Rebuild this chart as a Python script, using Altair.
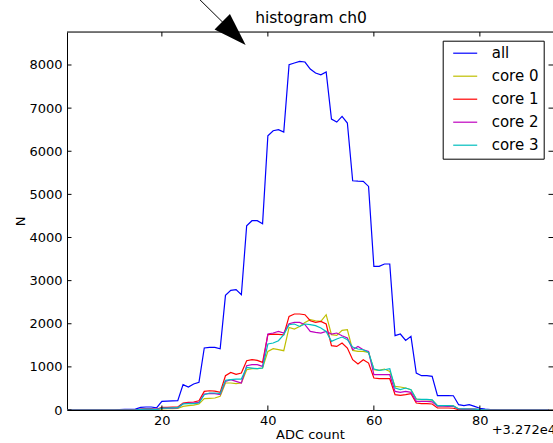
import altair as alt
import pandas as pd

FONT = "DejaVu Sans"

# ---------------- data ----------------
adc_bins = list(range(2, 94))  # ADC count - 32720

counts_all = [
    0, 0, 0, 0, 0, 0, 0, 0, 0, 0,
    10, 15, 15, 20, 60, 70, 70, 50,
    200, 205, 210, 215,
    587, 533, 602, 640,
    1437, 1452, 1450, 1421,
    2658, 2773, 2790, 2673,
    4273, 4389, 4389, 4320,
    6360, 6476, 6499, 6445,
    8006, 8045, 8083, 8069,
    7906, 7813, 7774, 7837,
    6747, 6677, 6807, 6654,
    5316, 5305, 5300, 5184,
    3330, 3330, 3385, 3385,
    1723, 1762, 1614, 1707,
    858, 795, 795, 779,
    332, 332, 332, 330,
    123, 100, 123, 84,
    40, 20, 10, 5,
    0, 0, 0, 0, 0, 0, 0, 0, 0, 0,
]

counts_core0 = [
    0, 0, 0, 0, 0, 0, 0, 0, 0, 0, 0, 0, 0, 0,
    10, 15, 15, 10,
    25, 30, 30, 35,
    84, 100, 115, 138,
    262, 270, 278, 316,
    626, 626, 610, 626,
    934, 958, 958, 973,
    1359, 1421, 1398, 1375,
    1915, 1878, 1938, 2031,
    2094, 2070, 2055, 2210,
    1746, 1730, 1846, 1862,
    1382, 1359, 1359, 1336,
    934, 918, 950, 895,
    548, 533, 510, 471,
    255, 239, 239, 230,
    100, 100, 95, 95,
    25, 23, 25, 20,
    10, 5, 0, 0,
    0, 0, 0, 0, 0, 0, 0, 0, 0, 0,
]

counts_core1 = [
    0, 0, 0, 0, 0, 0, 0, 0, 0, 0, 0, 0, 0, 0,
    20, 25, 25, 15,
    60, 60, 65, 70,
    162, 176, 185, 215,
    431, 446, 438, 409,
    795, 872, 826, 857,
    1143, 1166, 1151, 1104,
    1750, 1760, 1755, 1740,
    2170, 2226, 2226, 2210,
    2070, 2031, 2055, 1994,
    1491, 1475, 1553, 1437,
    1166, 1066, 1166, 1089,
    742, 726, 726, 726,
    355, 340, 355, 378,
    162, 150, 150, 140,
    46, 46, 46, 40,
    7, 7, 7, 5,
    0, 0, 0, 0,
    0, 0, 0, 0, 0, 0, 0, 0, 0, 0,
]

counts_core2 = [
    0, 0, 0, 0, 0, 0, 0, 0, 0, 0, 0, 0, 0, 0,
    15, 20, 20, 15,
    40, 45, 45, 50,
    146, 162, 162, 176,
    371, 378, 378, 355,
    664, 703, 664, 626,
    1027, 1050, 1050, 1011,
    1762, 1785, 1823, 1785,
    2001, 2031, 2031, 1978,
    1823, 1799, 1785, 1823,
    1762, 1785, 1723, 1669,
    1398, 1475, 1398, 1359,
    818, 818, 818, 818,
    431, 408, 431, 408,
    200, 200, 200, 190,
    90, 90, 85, 85,
    23, 20, 23, 20,
    8, 3, 0, 0,
    0, 0, 0, 0, 0, 0, 0, 0, 0, 0,
]

counts_core3 = [
    0, 0, 0, 0, 0, 0, 0, 0, 0, 0, 0, 0, 0, 0,
    15, 20, 20, 10,
    45, 45, 50, 55,
    140, 146, 150, 162,
    355, 394, 394, 378,
    687, 703, 718, 718,
    988, 973, 958, 973,
    1530, 1553, 1607, 1746,
    1978, 1994, 1938, 1994,
    1978, 1955, 1901, 1823,
    1591, 1646, 1692, 1630,
    1460, 1414, 1398, 1336,
    950, 918, 934, 958,
    510, 471, 510, 471,
    255, 245, 245, 235,
    100, 100, 100, 95,
    23, 25, 23, 20,
    8, 3, 0, 0,
    0, 0, 0, 0, 0, 0, 0, 0, 0, 0,
]

series_names = ["all", "core 0", "core 1", "core 2", "core 3"]
series_colors = ["#0000ff", "#bfbf00", "#ff0000", "#bf00bf", "#00bfbf"]
series_counts = [counts_all, counts_core0, counts_core1, counts_core2, counts_core3]

x_tick_values = [20, 40, 60, 80]
y_tick_values = [0, 1000, 2000, 3000, 4000, 5000, 6000, 7000, 8000]
x_domain = [2.1, 93.8]
y_domain = [0, 8765]
title_text = ["histogram ch0"]
offset_label = ["+3.272e4"]

# annotation arrow (data coordinates)
arrow_x = [25.3, 33.6]
arrow_y = [9740, 8735]

# ---------------- build tables ----------------
rows = []
for name, vals in zip(series_names, series_counts):
    for xv, v in zip(adc_bins, vals):
        rows.append({"x": xv, "n": v, "series": name})
df = pd.DataFrame(rows)

W, H = 486, 378

sx = alt.Scale(domain=x_domain, nice=False, zero=False)
sy = alt.Scale(domain=y_domain, nice=False, zero=False)

x_axis = alt.Axis(
    values=x_tick_values, ticks=False, labelPadding=4, grid=False,
    labelFontSize=13, labelColor="black", labelFont=FONT, format="d",
    title="ADC count", titleFontSize=13, titleFontWeight="normal",
    titleColor="black", titleFont=FONT, titlePadding=1,
    domainColor="black", domainWidth=1, labelFlush=False)
y_axis = alt.Axis(
    values=y_tick_values, ticks=False, labelPadding=5, grid=False,
    labelFontSize=13, labelColor="black", labelFont=FONT, format="d",
    title="N", titleFontSize=13, titleFontWeight="normal",
    titleColor="black", titleFont=FONT, titlePadding=1,
    domainColor="black", domainWidth=1, labelFlush=False)

X = alt.X("x:Q", scale=sx, axis=x_axis)
Y = alt.Y("n:Q", scale=sy, axis=y_axis)

lines = alt.Chart(df).mark_line(strokeWidth=1.2, clip=True).encode(
    x=X, y=Y,
    color=alt.Color("series:N",
                    scale=alt.Scale(domain=series_names, range=series_colors),
                    sort=series_names,
                    legend=alt.Legend(
                        orient="none", legendX=375.7, legendY=8.7, title=None,
                        strokeColor="black", fillColor="white", padding=5,
                        cornerRadius=0, symbolType="M -2 0 L 2 0",
                        symbolSize=144, symbolStrokeWidth=1.2, symbolOffset=10,
                        labelFontSize=15, labelFont=FONT, labelColor="black",
                        labelOffset=19, rowPadding=7)),
)

# inward ticks on all four sides (clipped half of a centred tick)
bt = pd.DataFrame({"x": x_tick_values, "n": [y_domain[0]] * len(x_tick_values)})
tt = pd.DataFrame({"x": x_tick_values, "n": [y_domain[1]] * len(x_tick_values)})
lt = pd.DataFrame({"x": [x_domain[0]] * len(y_tick_values), "n": y_tick_values})
rt = pd.DataFrame({"x": [x_domain[1]] * len(y_tick_values), "n": y_tick_values})

def tick_layer(d, orient):
    return alt.Chart(d).mark_tick(orient=orient, size=9, thickness=1,
                                  color="black", clip=True, opacity=1).encode(
        x=X, y=Y)

ticks = (tick_layer(bt, "vertical") + tick_layer(tt, "vertical")
         + tick_layer(lt, "horizontal") + tick_layer(rt, "horizontal"))

top_spine = alt.Chart(pd.DataFrame({"a": [0]})).mark_rule(
    color="black", strokeWidth=1).encode(
    x=alt.value(0), x2=alt.value(W), y=alt.value(0))

offset_text = alt.Chart(pd.DataFrame({"t": offset_label})).mark_text(
    align="left", baseline="alphabetic", fontSize=13, font=FONT,
    color="black").encode(
    x=alt.value(424.7), y=alt.value(401.8), text="t:N")

title_mark = alt.Chart(pd.DataFrame({"t": title_text})).mark_text(
    align="center", baseline="alphabetic", fontSize=15.5, font=FONT,
    color="black").encode(
    x=alt.value(W / 2 + 1), y=alt.value(-8.7), text="t:N")

arrow_df = pd.DataFrame({"x": arrow_x, "n": arrow_y})
arrow_line = alt.Chart(arrow_df).mark_line(
    color="black", strokeWidth=1, clip=False).encode(x=X, y=Y)
arrow_head = alt.Chart(arrow_df.iloc[[1]]).mark_point(
    shape="M 1 0 L -1 -0.66 L -1 0.66 Z", filled=True, fill="black",
    opacity=1, size=1089, angle=44.8, clip=False).encode(x=X, y=Y)

chart = alt.layer(
    lines, ticks, top_spine, offset_text, title_mark, arrow_line, arrow_head
).properties(
    width=W, height=H,
    autosize=alt.AutoSizeParams(type="none"),
    padding={"left": 67, "top": 32, "right": 0, "bottom": 33},
).configure_view(stroke=None).configure(background="white")

chart.save("out.html", embed_options={"renderer": "svg", "actions": False})
